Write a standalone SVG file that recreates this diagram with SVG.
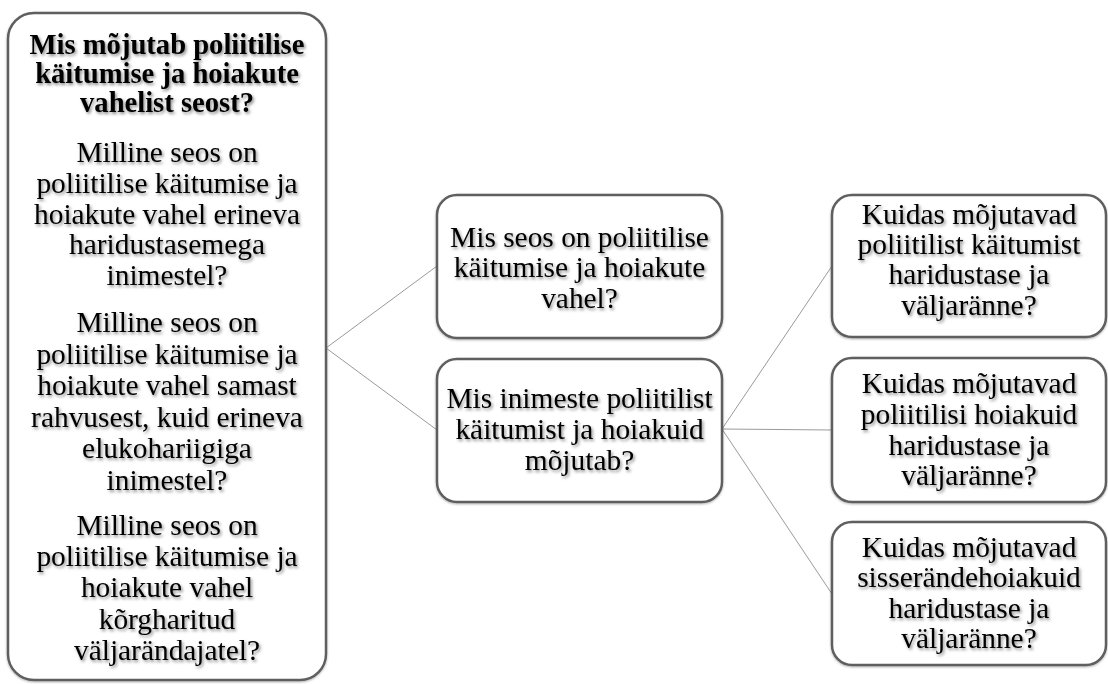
<svg xmlns="http://www.w3.org/2000/svg" width="1108" height="684" viewBox="0 0 1108 684">
<defs>
<filter id="ts" x="-10%" y="-30%" width="120%" height="160%">
<feDropShadow dx="1.5" dy="2" stdDeviation="1.6" flood-color="#000" flood-opacity="0.45"/>
</filter>
<filter id="bs" x="-5%" y="-5%" width="110%" height="110%">
<feDropShadow dx="0" dy="1" stdDeviation="1" flood-color="#000" flood-opacity="0.3"/>
</filter>
</defs>
<style>
.box{fill:#fff;stroke:#5e5e5e;stroke-width:2.5;}
.t{font-family:"Liberation Serif","Times New Roman",serif;font-size:29.4px;fill:#000;text-anchor:middle;}
.b{font-weight:bold;font-size:28.6px;}
.c{stroke:#9a9a9a;stroke-width:1;fill:none;}
</style>
<rect width="1108" height="684" fill="#fff"/>
<g id="connectors">
<line class="c" x1="326" y1="348" x2="437" y2="266"/>
<line class="c" x1="326" y1="348" x2="437" y2="430"/>
<line class="c" x1="722" y1="429" x2="832" y2="266"/>
<line class="c" x1="722" y1="429" x2="832" y2="430"/>
<line class="c" x1="722" y1="429" x2="832" y2="594"/>
</g>
<g id="left">
<rect class="box" filter="url(#bs)" x="8" y="13" width="318" height="667" rx="26"/>
<g filter="url(#ts)">
<text class="t b" x="167" y="54">Mis mõjutab poliitilise</text>
<text class="t b" x="167" y="83">käitumise ja hoiakute</text>
<text class="t b" x="167" y="112">vahelist seost?</text>
<text class="t" x="167" y="162">Milline seos on</text>
<text class="t" x="167" y="193">poliitilise käitumise ja</text>
<text class="t" x="167" y="224">hoiakute vahel erineva</text>
<text class="t" x="167" y="254">haridustasemega</text>
<text class="t" x="167" y="285">inimestel?</text>
<text class="t" x="167" y="332">Milline seos on</text>
<text class="t" x="167" y="364">poliitilise käitumise ja</text>
<text class="t" x="167" y="395">hoiakute vahel samast</text>
<text class="t" x="167" y="427">rahvusest, kuid erineva</text>
<text class="t" x="167" y="458">elukohariigiga</text>
<text class="t" x="167" y="490">inimestel?</text>
<text class="t" x="167" y="535">Milline seos on</text>
<text class="t" x="167" y="566">poliitilise käitumise ja</text>
<text class="t" x="167" y="597">hoiakute vahel</text>
<text class="t" x="167" y="629">kõrgharitud</text>
<text class="t" x="167" y="660">väljarändajatel?</text>
</g>
</g>
<g id="mid1">
<rect class="box" filter="url(#bs)" x="437" y="195" width="285" height="143" rx="20"/>
<g filter="url(#ts)">
<text class="t" x="579.5" y="247">Mis seos on poliitilise</text>
<text class="t" x="579.5" y="277">käitumise ja hoiakute</text>
<text class="t" x="579.5" y="308">vahel?</text>
</g>
</g>
<g id="mid2">
<rect class="box" filter="url(#bs)" x="437" y="359" width="285" height="143" rx="20"/>
<g filter="url(#ts)">
<text class="t" x="579.5" y="408">Mis inimeste poliitilist</text>
<text class="t" x="579.5" y="439">käitumist ja hoiakuid</text>
<text class="t" x="579.5" y="470">mõjutab?</text>
</g>
</g>
<g id="right1">
<rect class="box" filter="url(#bs)" x="832" y="195" width="274" height="142" rx="20"/>
<g filter="url(#ts)">
<text class="t" x="969" y="224">Kuidas mõjutavad</text>
<text class="t" x="969" y="254">poliitilist käitumist</text>
<text class="t" x="969" y="284">haridustase ja</text>
<text class="t" x="969" y="315">väljaränne?</text>
</g>
</g>
<g id="right2">
<rect class="box" filter="url(#bs)" x="832" y="358" width="274" height="144" rx="20"/>
<g filter="url(#ts)">
<text class="t" x="969" y="393">Kuidas mõjutavad</text>
<text class="t" x="969" y="424">poliitilisi hoiakuid</text>
<text class="t" x="969" y="455">haridustase ja</text>
<text class="t" x="969" y="485">väljaränne?</text>
</g>
</g>
<g id="right3">
<rect class="box" filter="url(#bs)" x="832" y="522" width="274" height="143" rx="20"/>
<g filter="url(#ts)">
<text class="t" x="969" y="557">Kuidas mõjutavad</text>
<text class="t" x="969" y="587">sisserändehoiakuid</text>
<text class="t" x="969" y="618">haridustase ja</text>
<text class="t" x="969" y="648">väljaränne?</text>
</g>
</g>
</svg>
